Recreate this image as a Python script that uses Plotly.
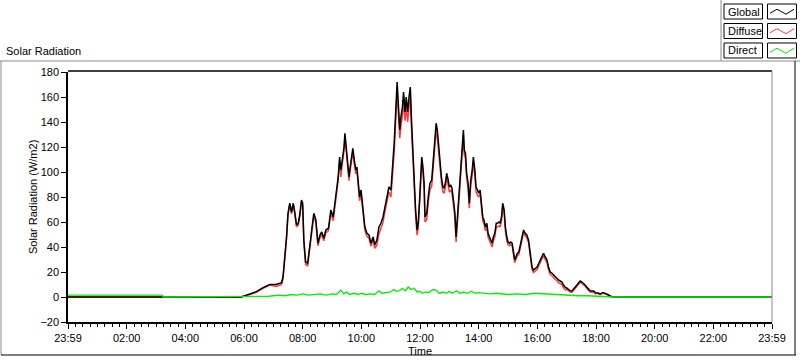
import plotly.graph_objects as go

# ---------------- data (hours since 23:59, W/m2) ----------------
global_hours = [0, 5.9, 6.2, 6.42, 6.65, 6.88, 7.1, 7.28, 7.33, 7.39, 7.45, 7.5, 7.56, 7.62, 7.68, 7.73,
                7.79, 7.85, 7.9, 7.96, 8.0, 8.04, 8.1, 8.17, 8.24, 8.3, 8.38, 8.45, 8.52, 8.59, 8.65, 8.72,
                8.79, 8.88, 8.93, 8.96, 9.04, 9.1, 9.16, 9.21, 9.26, 9.3, 9.35, 9.41, 9.44, 9.48, 9.53, 9.58,
                9.62, 9.67, 9.71, 9.76, 9.81, 9.85, 9.89, 9.94, 9.99, 10.03, 10.08, 10.12, 10.19, 10.26, 10.33,
                10.4, 10.46, 10.53, 10.6, 10.67, 10.74, 10.8, 10.87, 10.94, 11.01, 11.03, 11.08, 11.12, 11.17,
                11.22, 11.26, 11.31, 11.35, 11.4, 11.44, 11.49, 11.53, 11.58, 11.62, 11.67, 11.71, 11.76, 11.8,
                11.85, 11.9, 11.94, 11.99, 12.06, 12.1, 12.14, 12.17, 12.23, 12.28, 12.34, 12.4, 12.45, 12.5,
                12.55, 12.59, 12.64, 12.68, 12.73, 12.78, 12.82, 12.87, 12.91, 12.96, 13.0, 13.05, 13.09, 13.14,
                13.19, 13.23, 13.27, 13.32, 13.37, 13.41, 13.46, 13.48, 13.51, 13.55, 13.59, 13.64, 13.68, 13.73,
                13.78, 13.82, 13.87, 13.91, 13.96, 14.0, 14.05, 14.09, 14.14, 14.18, 14.23, 14.28, 14.32, 14.37,
                14.41, 14.46, 14.5, 14.55, 14.6, 14.64, 14.69, 14.73, 14.78, 14.82, 14.87, 14.91, 14.96, 15.0,
                15.05, 15.09, 15.14, 15.18, 15.23, 15.27, 15.32, 15.37, 15.41, 15.47, 15.53, 15.59, 15.64, 15.7,
                15.76, 15.82, 15.87, 15.93, 15.99, 16.05, 16.1, 16.16, 16.21, 16.27, 16.33, 16.38, 16.44, 16.5,
                16.55, 16.61, 16.67, 16.72, 16.78, 16.84, 16.89, 16.95, 17.01, 17.06, 17.12, 17.18, 17.23, 17.29,
                17.35, 17.41, 17.46, 17.52, 17.58, 17.63, 17.69, 17.75, 17.8, 17.86, 17.92, 17.98, 18.04, 18.09,
                18.15, 18.21, 18.26, 18.32, 18.38, 18.43, 18.49, 18.55, 18.7, 24]

global_wm2 = [0, 0, 2.4, 4.3, 7.5, 10, 10, 11.5, 16, 30, 48, 67, 75, 68, 75, 68,
              57.6, 59, 65.6, 77.6, 75, 45.6, 28, 27, 39, 49.6, 67, 61.6, 43, 49.6, 52, 47,
              53.6, 55, 65.6, 69.6, 64, 75, 85.6, 96, 112, 101.6, 109.6, 120, 131, 120, 107, 96,
              104, 112, 119, 109.6, 101.6, 104, 93.6, 80, 85.6, 75, 67, 56, 51, 49.6, 43,
              48, 41.6, 45.6, 56, 59, 64, 72, 80, 88, 85.6, 96, 109.6, 123, 144,
              172, 155, 133.6, 144, 152, 164, 148, 160, 148, 159, 168, 141.6, 115, 88,
              69.6, 53.6, 59, 80, 112, 104, 91, 64, 67, 80, 91, 93.6, 109.6, 125.6,
              139, 133.6, 120, 104, 96, 88, 87, 92, 99, 93.6, 88, 89.6, 87, 77.6,
              67, 48, 61.6, 77.6, 91, 104, 123, 133.6, 117.6, 115, 99, 91, 75, 93.6,
              101.6, 112, 101.6, 88, 85.6, 83, 85.6, 77.6, 64, 61.6, 56, 59, 51, 48,
              45.6, 43, 48, 51, 59, 59, 60, 59, 64, 75, 69.6, 56, 48, 44,
              43, 44, 43, 37.6, 29.6, 32, 35, 36, 40, 48, 53.6, 51, 49.6, 45.6,
              32, 24, 21.6, 23, 24, 27, 29.6, 32, 35, 32, 29.6, 24, 20, 19,
              17.6, 16, 15, 13.6, 12.8, 12, 9.6, 7.8, 7, 6, 5, 4.8, 6, 7.8,
              9.6, 11.5, 12.8, 12, 11, 9.6, 7.8, 6, 5, 4.8, 4.8, 3.5, 3.5, 3,
              2.4, 3.5, 3.5, 3, 2.4, 1.6, 0.8, 0.3, 0, 0]

diffuse_wm2 = [0, 0, 1.9, 3.8, 7, 9.5, 8.5, 10, 14.5, 28.5, 46.5, 65.5, 73.5, 66.5, 73.5, 66.5,
               56, 57.5, 64, 76, 73, 43.5, 26, 25, 37, 47.5, 65, 59.5, 41, 47.5, 50, 45,
               51.5, 53, 63.5, 67.5, 61, 72, 82.5, 93, 109, 96, 106.5, 117, 128, 117, 104, 93,
               101, 109, 116, 106.5, 98.5, 101, 90.5, 77, 82.5, 72.5, 64.5, 53.5, 48.5, 47, 40.5,
               45.5, 39, 41.5, 50.5, 55, 60, 68, 76, 84, 80, 89, 103, 116, 137,
               165, 148, 127, 137, 145, 157, 141, 153, 140, 151, 160, 135, 111, 84,
               65.5, 49.5, 55, 76, 108, 100, 87, 60, 62, 75, 86, 88.5, 103.5, 119.5,
               133, 128, 114.5, 99, 92, 84, 83, 88, 95, 89.5, 84, 85.5, 83, 73.5,
               63, 44, 57.5, 73.5, 87, 100, 119, 129.5, 113.5, 111, 95, 87, 71, 89.5,
               97.5, 108, 97.5, 84, 81.5, 80, 82.5, 74.5, 61, 58.5, 53, 56, 48, 45,
               42.5, 40, 45, 48, 56, 56, 57, 56, 61, 72, 66.5, 53, 45, 42,
               41, 42, 41, 35.5, 27.5, 30, 33, 34, 38, 46, 51.5, 49, 47.5, 43.5,
               30, 22, 19.5, 21, 22, 25, 27.5, 30, 33, 30, 27.5, 22, 18, 17,
               15.5, 14, 13, 11.5, 10.8, 10, 7.6, 5.8, 6, 5, 4, 3.8, 5, 6.8,
               8.6, 10.5, 11.8, 11, 10, 8.6, 6.8, 5, 4, 3.8, 3.8, 2.5, 3, 2.5,
               1.9, 3, 3, 2.5, 1.9, 1.1, 0.3, 0, 0, 0]

direct_hours = [0, 3.2, 3.25, 6.5, 6.8, 7.0, 7.2, 7.4, 7.6, 7.8, 8.0, 8.2, 8.4, 8.6, 8.8, 9.0, 9.15,
                9.3, 9.4, 9.5, 9.6, 9.75, 9.9, 10.0, 10.15, 10.3, 10.45, 10.6, 10.7, 10.85, 11.0, 11.1,
                11.2, 11.3, 11.4, 11.5, 11.6, 11.7, 11.8, 11.9, 12.0, 12.1, 12.2, 12.3, 12.45, 12.55,
                12.65, 12.8, 12.9, 13.0, 13.1, 13.25, 13.35, 13.5, 13.6, 13.75, 13.9, 14.0, 14.2, 14.4,
                14.6, 14.8, 15.0, 15.3, 15.6, 15.9, 16.2, 16.5, 16.8, 17.1, 17.4, 17.7, 18.0, 18.3,
                18.6, 24]
direct_wm2 = [1.5, 1.5, 0, 0, 0.5, 1, 1.5, 1, 2, 1.5, 2.5, 1.5, 2, 2.5, 1.5, 2.5, 2,
              5.5, 2.5, 4, 2, 3, 2, 3, 2, 2.5, 2, 5, 3, 3.5, 4, 6,
              4.5, 5, 7, 5, 8, 6, 7, 4, 4.5, 3, 4, 3.5, 6, 5.5,
              3, 4, 3, 4.5, 3, 5, 3, 4, 3, 4.5, 3, 3.5, 3, 2.5,
              3, 2.5, 2, 2.5, 2, 3, 2.5, 2, 1.5, 1.5, 1, 1, 0.8, 0.5,
              0, 0]

x_tick_vals = [0, 2, 4, 6, 8, 10, 12, 14, 16, 18, 20, 22, 24]
x_tick_text = ["23:59", "02:00", "04:00", "06:00", "08:00", "10:00", "12:00",
               "14:00", "16:00", "18:00", "20:00", "22:00", "23:59"]
legend_names = ["Global", "Diffuse", "Direct"]
legend_colors = ["#000000", "#ff3c3c", "#00ee00"]

# ---------------- figure ----------------
W, H = 800, 361
L, R, T, B = 68, 772, 72, 322
FONT = "Liberation Sans, Arial, sans-serif"


def px(p):
    return (p - L) / (R - L)


def py(p):
    return (B - p) / (B - T)


fig = go.Figure()
fig.add_trace(go.Scatter(x=global_hours, y=diffuse_wm2, mode="lines", name=legend_names[1],
                         line=dict(color=legend_colors[1], width=1.5)))
fig.add_trace(go.Scatter(x=global_hours, y=global_wm2, mode="lines", name=legend_names[0],
                         line=dict(color=legend_colors[0], width=1.5)))
fig.add_trace(go.Scatter(x=direct_hours, y=direct_wm2, mode="lines", name=legend_names[2],
                         line=dict(color=legend_colors[2], width=1.3)))

shapes = []
gray = "#8c8c8c"
# outer frame (sunken look)
shapes.append(dict(type="line", xref="paper", yref="paper", x0=px(0), x1=px(800), y0=py(61), y1=py(61),
                   line=dict(color=gray, width=1)))
shapes.append(dict(type="line", xref="paper", yref="paper", x0=px(1), x1=px(1), y0=py(61), y1=py(355),
                   line=dict(color=gray, width=1)))
shapes.append(dict(type="line", xref="paper", yref="paper", x0=px(1), x1=px(796), y0=py(355), y1=py(355),
                   line=dict(color="black", width=1)))
shapes.append(dict(type="line", xref="paper", yref="paper", x0=px(795), x1=px(795), y0=py(61), y1=py(355),
                   line=dict(color="black", width=1)))
# legend panel border
shapes.append(dict(type="line", xref="paper", yref="paper", x0=px(721), x1=px(721), y0=py(0), y1=py(61),
                   line=dict(color=gray, width=1)))
# plot frame top / right
shapes.append(dict(type="line", xref="paper", yref="paper", x0=0, x1=1, y0=py(71), y1=py(71),
                   line=dict(color="black", width=1.5)))
shapes.append(dict(type="line", xref="paper", yref="paper", x0=1, x1=1, y0=0, y1=py(71),
                   line=dict(color=gray, width=1)))

annotations = []
row_tops = [4, 23.5, 43]
for name, color, top in zip(legend_names, legend_colors, row_tops):
    bot = top + 15
    shapes.append(dict(type="rect", xref="paper", yref="paper", x0=px(724), x1=px(762.5),
                       y0=py(bot), y1=py(top), line=dict(color="black", width=1), fillcolor="white"))
    shapes.append(dict(type="rect", xref="paper", yref="paper", x0=px(767.5), x1=px(796.5),
                       y0=py(bot), y1=py(top), line=dict(color="black", width=1), fillcolor="white"))
    zz = [(770, 0.62), (777, 0.35), (786, 0.68), (794, 0.35)]
    path = "M " + " L ".join(f"{px(a)},{py(top + f * 15)}" for a, f in zz)
    shapes.append(dict(type="path", xref="paper", yref="paper", path=path,
                       line=dict(color=color, width=1)))
    annotations.append(dict(text=name, xref="paper", yref="paper", x=px(725.5), y=py(top + 7.5),
                            xanchor="left", yanchor="middle", showarrow=False,
                            font=dict(family=FONT, size=11, color="black")))

annotations.append(dict(text="Solar Radiation", xref="paper", yref="paper", x=px(4), y=py(51),
                        xanchor="left", yanchor="middle", showarrow=False,
                        font=dict(family=FONT, size=11, color="black")))
annotations.append(dict(text="Solar Radiation (W/m2)", xref="paper", yref="paper", x=px(33), y=py(197),
                        xanchor="center", yanchor="middle", textangle=-90, showarrow=False,
                        font=dict(family=FONT, size=11, color="black")))
annotations.append(dict(text="Time", xref="paper", yref="paper", x=px(420), y=py(351),
                        xanchor="center", yanchor="middle", showarrow=False,
                        font=dict(family=FONT, size=11, color="black")))

fig.update_layout(
    width=W, height=H, autosize=False,
    margin=dict(l=L, r=W - R, t=T, b=H - B, pad=0),
    paper_bgcolor="white", plot_bgcolor="white",
    showlegend=False,
    font=dict(family=FONT, size=11, color="black"),
    shapes=shapes, annotations=annotations,
    xaxis=dict(range=[0, 24], tickvals=x_tick_vals, ticktext=x_tick_text,
               showgrid=False, zeroline=False, showline=True, linecolor="black", linewidth=1.5,
               ticks="outside", ticklen=5, tickcolor="black", tickwidth=1,
               tickfont=dict(family=FONT, size=11, color="black"),
               minor=dict(dtick=0.25, tick0=0, ticks="outside", ticklen=3, tickcolor="black",
                          showgrid=False)),
    yaxis=dict(range=[-20, 180], dtick=20, tick0=0,
               showgrid=False, zeroline=False, showline=True, linecolor="black", linewidth=1.5,
               ticks="outside", ticklen=5, tickcolor="black", tickwidth=1,
               tickfont=dict(family=FONT, size=11, color="black")),
)

fig.write_html("out.html", config={"displayModeBar": False},
               post_script="document.body.style.margin='0';document.body.style.overflow='hidden';")
